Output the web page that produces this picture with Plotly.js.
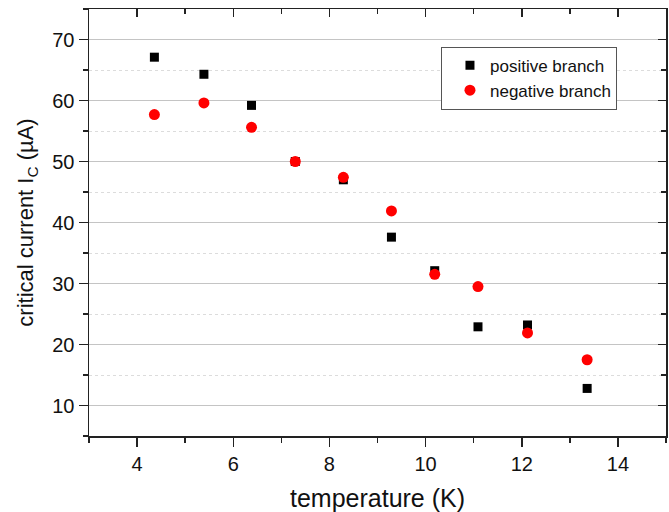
<!DOCTYPE html>
<html>
<head>
<meta charset="utf-8">
<script src="https://cdn.plot.ly/plotly-3.0.1.min.js"></script>
<style>html,body{margin:0;padding:0;background:#fff;}#chart{width:669px;height:512px;}</style>
</head>
<body>
<div id="chart"></div>
<script>
var temperature = [4.36, 5.39, 6.38, 7.29, 8.29, 9.29, 10.19, 11.09, 12.12, 13.36];
var positiveBranch = [67.1, 64.3, 59.2, 50.0, 47.0, 37.6, 32.1, 22.9, 23.2, 12.8];
var negativeBranch = [57.7, 59.6, 55.6, 50.0, 47.4, 41.9, 31.5, 29.5, 21.9, 17.5];
var seriesNames = ['positive branch', 'negative branch'];
var xTitle = 'temperature (K)';
var yTitle = 'critical current I<sub>C</sub> (µA)';

var font = 'Liberation Sans, Arial, sans-serif';
var axisColor = '#222';

var traces = [
  {x: temperature, y: positiveBranch, name: seriesNames[0], mode: 'markers', type: 'scatter',
   marker: {symbol: 'square', size: 9, color: '#000'}},
  {x: temperature, y: negativeBranch, name: seriesNames[1], mode: 'markers', type: 'scatter',
   marker: {symbol: 'circle', size: 11, color: '#ff0000'}},
  {x: temperature, y: positiveBranch, xaxis: 'x2', yaxis: 'y2', mode: 'markers', type: 'scatter',
   marker: {opacity: 0}, showlegend: false, hoverinfo: 'skip'}
];

var layout = {
  width: 669, height: 512,
  margin: {l: 89, r: 3, t: 9, b: 76},
  paper_bgcolor: '#fff', plot_bgcolor: '#fff',
  font: {family: font, color: '#111', size: 18},
  showlegend: true,
  legend: {x: 0.61, y: 0.912, xanchor: 'left', yanchor: 'top', bgcolor: '#fff',
           bordercolor: '#555', borderwidth: 1, font: {size: 17, family: font, color: '#111'},
           tracegroupgap: 0, itemsizing: 'trace', indentation: 8},
  xaxis: {
    range: [3, 15], tick0: 0, dtick: 2, ticks: 'outside', ticklen: 9, tickwidth: 1.5, tickcolor: axisColor,
    showline: true, linecolor: axisColor, linewidth: 1.5, showgrid: false, zeroline: false,
    tickfont: {size: 20, family: font, color: '#111'},
    minor: {dtick: 1, ticklen: 5, tickwidth: 1.5, tickcolor: axisColor, ticks: 'outside', showgrid: false},
    title: {text: xTitle, font: {size: 25, family: font, color: '#111'}, standoff: 22}
  },
  yaxis: {
    range: [5, 75], tick0: 0, dtick: 10, ticks: 'outside', ticklen: 9, tickwidth: 1.5, tickcolor: axisColor,
    showline: true, linecolor: axisColor, linewidth: 1.5, showgrid: true, gridcolor: '#c4c4c4', gridwidth: 1,
    zeroline: false, tickfont: {size: 20, family: font, color: '#111'},
    minor: {dtick: 5, ticklen: 5, tickwidth: 1.5, tickcolor: axisColor, ticks: 'outside', showgrid: true,
            gridcolor: '#dcdcdc', griddash: 'dot', gridwidth: 1},
    title: {text: yTitle, font: {size: 22, family: font, color: '#111'}, standoff: 12}
  },
  xaxis2: {
    overlaying: 'x', side: 'top', anchor: 'y2', range: [3, 15], tick0: 0, dtick: 2,
    ticks: 'inside', ticklen: 8, tickwidth: 1.5, tickcolor: axisColor, showticklabels: false,
    showline: true, linecolor: axisColor, linewidth: 1.5, showgrid: false, zeroline: false,
    minor: {dtick: 1, ticklen: 5, tickwidth: 1.5, tickcolor: axisColor, ticks: 'inside', showgrid: false}
  },
  yaxis2: {
    overlaying: 'y', side: 'right', anchor: 'x2', range: [5, 75], tick0: 0, dtick: 10,
    ticks: 'inside', ticklen: 8, tickwidth: 1.5, tickcolor: axisColor, showticklabels: false,
    showline: true, linecolor: axisColor, linewidth: 1.5, showgrid: false, zeroline: false,
    minor: {dtick: 5, ticklen: 5, tickwidth: 1.5, tickcolor: axisColor, ticks: 'inside', showgrid: false}
  }
};

Plotly.newPlot('chart', traces, layout, {displayModeBar: false, staticPlot: true});
</script>
</body>
</html>
